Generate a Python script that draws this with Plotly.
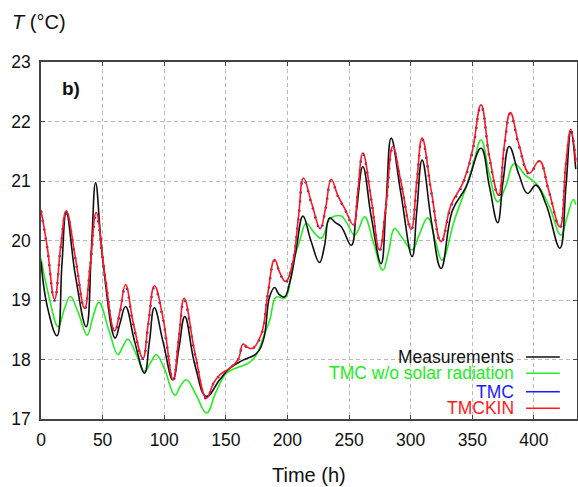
import plotly.graph_objects as go

# ---- data ----
t_meas = [0, 5, 13, 17, 20.5, 28, 36.7, 41, 44.3, 50, 60.2, 64, 68.6, 76, 84, 88, 92, 99, 107, 112,
          116.7, 125, 134.3, 145, 153, 164, 174.8, 180.5, 185.6, 189.6, 193, 197.5, 202, 207, 212.6,
          219, 226, 230, 234.2, 239, 243.7, 251.8, 256, 261.2, 268, 276, 280, 284.2, 292, 301.2, 305,
          309.3, 317, 324.7, 334, 345, 357.1, 364, 370.6, 375, 380, 388, 394.9, 401.7, 410, 421.1,
          426, 430, 434]
measurements = [19.65, 18.9, 18.40, 19.6, 20.48, 19.4, 18.55, 19.9, 20.97, 19.7, 18.36, 18.6, 18.89,
                18.3, 17.77, 18.3, 18.87, 18.3, 17.66, 18.2, 18.72, 17.9, 17.38, 17.66, 17.85, 17.99,
                18.10, 18.33, 19.06, 19.21, 19.1, 19.05, 19.3, 19.84, 20.41, 20.0, 19.63, 19.9, 20.38,
                20.3, 20.23, 19.92, 20.5, 21.24, 20.4, 19.61, 20.6, 21.72, 20.8, 19.73, 20.5, 21.35,
                20.3, 19.53, 20.51, 20.90, 21.55, 20.9, 20.30, 21.0, 21.58, 21.1, 20.79, 20.93, 20.6,
                19.87, 20.9, 21.83, 21.2]

t_nosol = [0, 6, 14, 19, 23.8, 30, 37.5, 42, 47, 55, 62.4, 66, 70.5, 77, 84, 89, 93.5, 100, 108.6,
           113, 118, 126, 134.3, 142, 150.5, 160, 169.4, 175.4, 180, 185.6, 191, 197.7, 204.5, 210,
           215.3, 221, 227.5, 234.8, 243.7, 248, 254.5, 258, 262.6, 270, 277.4, 282, 286.9, 293,
           301.2, 307, 313.9, 320, 325.5, 335.5, 345, 351, 357.1, 364, 370.6, 377, 384.1, 393,
           401.7, 412, 422, 427, 432, 434]
tmc_no_solar = [19.7, 19.1, 18.55, 18.85, 19.06, 18.8, 18.41, 18.7, 18.96, 18.5, 18.08, 18.2, 18.34,
                18.1, 17.80, 17.95, 18.08, 17.85, 17.40, 17.55, 17.66, 17.4, 17.10, 17.45, 17.77,
                17.87, 17.95, 18.10, 18.35, 18.66, 19.05, 19.03, 19.62, 20.0, 20.29, 20.15, 20.04,
                20.37, 20.41, 20.3, 20.09, 20.2, 20.40, 19.95, 19.50, 19.8, 20.20, 20.05, 19.84,
                20.1, 20.38, 20.0, 19.67, 20.34, 20.90, 21.3, 21.69, 21.1, 20.65, 20.9, 21.29, 21.1,
                20.96, 20.6, 20.09, 20.4, 20.69, 20.6]

t_model = [0, 5, 11, 16, 20.5, 28, 35.4, 40, 44.8, 52, 59.7, 64, 68.6, 75, 82.7, 87, 92.1, 99, 107.2,
           112, 116.2, 125, 134.3, 140, 145, 153, 160, 164, 168, 172, 179, 184, 189.6, 194, 198.5,
           204, 209, 213, 220, 226.6, 231, 235.5, 241, 246.4, 253.6, 257, 261.2, 268, 274.7, 280,
           285.5, 292, 300.4, 305, 309.3, 317, 324.7, 332.8, 342.2, 350, 357.1, 364, 371.4, 376,
           380.9, 388, 396.3, 404.4, 412, 421.1, 426, 430, 434]
tmc = [20.50, 19.88, 18.99, 19.88, 20.46, 19.68, 18.85, 19.58, 20.42, 19.38, 18.47, 18.78, 19.23,
       18.58, 18.01, 18.58, 19.21, 18.68, 17.65, 18.38, 19.0, 18.08, 17.34, 17.6, 17.73, 17.85, 18.0,
       18.24, 18.19, 18.19, 18.43, 19.08, 19.66, 19.44, 19.30, 19.6, 20.38, 21.03, 20.58, 20.19,
       20.54, 21.01, 20.74, 20.53, 20.25, 20.78, 21.45, 20.68, 19.83, 20.58, 21.55, 20.98, 20.18,
       20.98, 21.70, 20.78, 19.97, 20.58, 20.94, 21.48, 22.26, 21.38, 20.75, 21.58, 22.13, 21.58,
       21.12, 21.33, 20.84, 20.22, 21.28, 21.85, 21.30]
tmckin = [20.51, 19.9, 19.01, 19.9, 20.5, 19.7, 18.86, 19.6, 20.47, 19.4, 18.48, 18.8, 19.26, 18.6,
          18.02, 18.6, 19.24, 18.7, 17.66, 18.4, 19.03, 18.1, 17.35, 17.6, 17.74, 17.85, 18.0, 18.26,
          18.2, 18.19, 18.44, 19.1, 19.68, 19.45, 19.31, 19.6, 20.4, 21.05, 20.6, 20.20, 20.55,
          21.03, 20.75, 20.54, 20.26, 20.8, 21.47, 20.7, 19.84, 20.6, 21.58, 21.0, 20.19, 21.0,
          21.72, 20.8, 19.98, 20.60, 20.96, 21.5, 22.28, 21.4, 20.76, 21.6, 22.15, 21.6, 21.13,
          21.34, 20.85, 20.23, 21.3, 21.87, 21.32]

x_ticks = [0, 50, 100, 150, 200, 250, 300, 350, 400]
y_ticks = [17, 18, 19, 20, 21, 22, 23]

series_names = ["Measurements", "TMC w/o solar radiation", "TMC", "TMCKIN"]
series_colors = ["#111111", "#22ee22", "#1a1aff", "#ff1a1a"]

FONT = "Liberation Sans, Arial, sans-serif"
SPL = dict(shape="spline", smoothing=1.2)

fig = go.Figure()
fig.add_trace(go.Scatter(x=t_nosol, y=tmc_no_solar, mode="lines", name=series_names[1],
                         line=dict(color=series_colors[1], width=1.6, **SPL)))
fig.add_trace(go.Scatter(x=t_meas, y=measurements, mode="lines", name=series_names[0],
                         line=dict(color=series_colors[0], width=1.6, **SPL)))
fig.add_trace(go.Scatter(x=t_model, y=tmc, mode="lines", name=series_names[2],
                         line=dict(color=series_colors[2], width=2.4, dash="2px,7px", **SPL)))
fig.add_trace(go.Scatter(x=t_model, y=tmckin, mode="lines", name=series_names[3],
                         line=dict(color=series_colors[3], width=1.6, **SPL)))

axis_common = dict(showline=True, linecolor="#444444", linewidth=1.5, mirror="ticks",
                   ticks="inside", ticklen=4, tickcolor="#444444", automargin=False,
                   showgrid=True, gridcolor="#bbbbbb", gridwidth=1, griddash="4px,3px",
                   zeroline=False, tickfont=dict(family=FONT, size=17.5, color="#111111"))

fig.update_xaxes(range=[0, 435], tickvals=x_ticks, ticklabelstandoff=4, **axis_common)
fig.update_yaxes(range=[17, 23], tickvals=y_ticks, ticklabelstandoff=5, **axis_common)

# legend drawn as right-aligned text with line swatch on the right
leg_y = [0.174, 0.128, 0.0765, 0.030]
for name, col, yy in zip(series_names, series_colors, leg_y):
    fig.add_annotation(x=0.887, y=yy, xref="paper", yref="paper", text=name, showarrow=False,
                       xanchor="right", yanchor="middle",
                       font=dict(family=FONT, size=17.5, color=col))
    fig.add_shape(type="line", xref="paper", yref="paper", x0=0.905, x1=0.968, y0=yy, y1=yy,
                  line=dict(color=col, width=1.5))

fig.add_annotation(x=0.035, y=0.925, xref="paper", yref="paper", text="<b>b)</b>", showarrow=False,
                   xanchor="left", yanchor="middle", font=dict(family=FONT, size=19, color="#111111"))
fig.add_annotation(x=-0.058, y=1.112, xref="paper", yref="paper", text="<i>T</i> (°C)",
                   showarrow=False, xanchor="left", yanchor="middle",
                   font=dict(family=FONT, size=20, color="#111111"))
fig.add_annotation(x=0.5, y=-0.157, xref="paper", yref="paper", text="Time (h)",
                   showarrow=False, xanchor="center", yanchor="middle",
                   font=dict(family=FONT, size=20, color="#111111"))

fig.update_layout(width=578, height=487, margin=dict(l=41, r=1, t=62, b=68),
                  paper_bgcolor="white", plot_bgcolor="white", showlegend=False)

fig.write_html("out.html", config={"displayModeBar": False},
               post_script="document.body.style.margin='0';document.body.style.overflow='hidden';")
